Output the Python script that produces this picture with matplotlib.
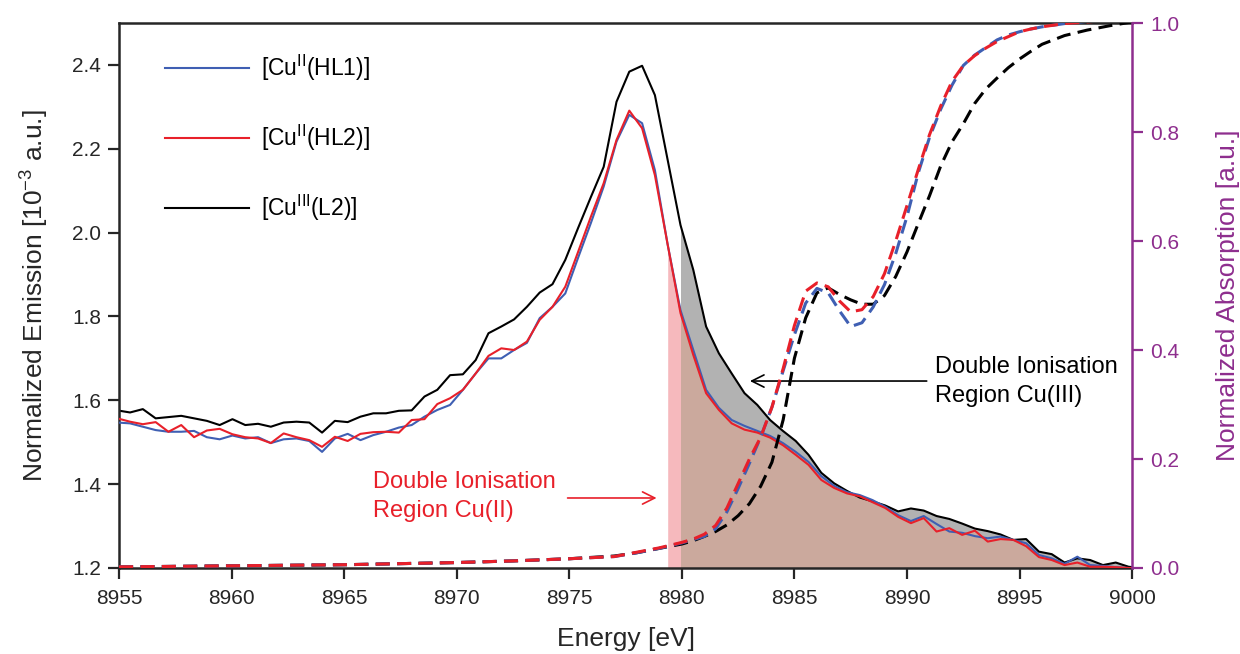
import numpy as np
import matplotlib.pyplot as plt

plt.rcParams['font.family'] = ['Liberation Sans', 'DejaVu Sans']
plt.rcParams['mathtext.fontset'] = 'custom'
plt.rcParams['mathtext.rm'] = 'Liberation Sans'
plt.rcParams['mathtext.it'] = 'Liberation Sans:italic'
plt.rcParams['mathtext.bf'] = 'Liberation Sans:bold'

# emission (XES) data, left axis
emission_energy = np.linspace(8954.92, 9000.41, 81)
hl1_emission = [1.547, 1.545, 1.537, 1.529, 1.525, 1.525, 1.527, 1.512, 1.507, 1.516,
                1.509, 1.512, 1.498, 1.507, 1.509, 1.503, 1.477, 1.509, 1.520, 1.505,
                1.517, 1.525, 1.535, 1.541, 1.561, 1.577, 1.589, 1.625, 1.664, 1.700,
                1.700, 1.720, 1.737, 1.796, 1.823, 1.855, 1.940, 2.023, 2.110, 2.217,
                2.281, 2.261, 2.149, 1.971, 1.815, 1.720, 1.625, 1.582, 1.553, 1.539,
                1.527, 1.515, 1.498, 1.477, 1.453, 1.419, 1.396, 1.381, 1.374, 1.362,
                1.346, 1.326, 1.312, 1.324, 1.305, 1.287, 1.284, 1.276, 1.271, 1.275,
                1.267, 1.259, 1.231, 1.223, 1.210, 1.227, 1.207, 1.205, 1.202, 1.200,
                1.200]
hl2_emission = [1.557, 1.549, 1.543, 1.548, 1.525, 1.541, 1.512, 1.528, 1.532, 1.519,
                1.512, 1.509, 1.498, 1.521, 1.512, 1.505, 1.489, 1.513, 1.503, 1.520,
                1.524, 1.525, 1.523, 1.553, 1.555, 1.591, 1.605, 1.625, 1.664, 1.706,
                1.724, 1.720, 1.740, 1.792, 1.823, 1.871, 1.954, 2.038, 2.118, 2.221,
                2.291, 2.249, 2.137, 1.971, 1.808, 1.708, 1.617, 1.577, 1.545, 1.530,
                1.523, 1.511, 1.493, 1.470, 1.446, 1.410, 1.391, 1.378, 1.371, 1.357,
                1.343, 1.322, 1.307, 1.319, 1.287, 1.295, 1.279, 1.289, 1.263, 1.269,
                1.267, 1.252, 1.226, 1.219, 1.207, 1.213, 1.203, 1.203, 1.202, 1.200,
                1.200]
l2_emission = [1.576, 1.571, 1.579, 1.557, 1.560, 1.563, 1.557, 1.551, 1.541, 1.555,
               1.541, 1.544, 1.537, 1.547, 1.549, 1.547, 1.523, 1.551, 1.548, 1.561,
               1.569, 1.569, 1.575, 1.576, 1.609, 1.625, 1.660, 1.662, 1.696, 1.760,
               1.776, 1.793, 1.823, 1.857, 1.877, 1.935, 2.011, 2.085, 2.157, 2.312,
               2.384, 2.398, 2.328, 2.173, 2.018, 1.911, 1.776, 1.712, 1.664, 1.617,
               1.589, 1.553, 1.527, 1.503, 1.470, 1.427, 1.402, 1.384, 1.368, 1.359,
               1.349, 1.335, 1.342, 1.337, 1.324, 1.317, 1.306, 1.294, 1.288, 1.280,
               1.267, 1.269, 1.239, 1.233, 1.213, 1.223, 1.219, 1.207, 1.213, 1.203,
               1.200]

# absorption (XANES) data, right axis
absorption_energy = [8955, 8957.5, 8960, 8962.5, 8965, 8967.5, 8970, 8972.5, 8975, 8977,
                     8978, 8979, 8980, 8980.5, 8981, 8981.5, 8982, 8982.5, 8983, 8983.5,
                     8984, 8984.5, 8985, 8985.5, 8986, 8986.5, 8987, 8987.5, 8988, 8988.5,
                     8989, 8989.5, 8990, 8990.5, 8991, 8991.5, 8992, 8992.5, 8993, 8993.5,
                     8994, 8994.5, 8995, 8995.5, 8996, 8997, 8998, 8999, 9000]
hl1_absorption = [0.002, 0.003, 0.004, 0.005, 0.006, 0.008, 0.010, 0.013, 0.017, 0.021,
                  0.028, 0.036, 0.046, 0.052, 0.058, 0.072, 0.103, 0.146, 0.192, 0.240,
                  0.295, 0.362, 0.428, 0.486, 0.513, 0.505, 0.472, 0.443, 0.450, 0.479,
                  0.520, 0.577, 0.645, 0.725, 0.790, 0.842, 0.886, 0.922, 0.941, 0.955,
                  0.969, 0.978, 0.984, 0.989, 0.993, 0.999, 1.003, 1.006, 1.008]
hl2_absorption = [0.002, 0.003, 0.004, 0.005, 0.006, 0.008, 0.010, 0.013, 0.017, 0.021,
                  0.029, 0.037, 0.047, 0.053, 0.062, 0.078, 0.110, 0.155, 0.200, 0.240,
                  0.295, 0.366, 0.445, 0.508, 0.523, 0.516, 0.490, 0.470, 0.474, 0.498,
                  0.540, 0.600, 0.665, 0.731, 0.795, 0.848, 0.893, 0.922, 0.940, 0.954,
                  0.966, 0.975, 0.984, 0.989, 0.993, 0.999, 1.002, 1.005, 1.008]
l2_absorption = [0.002, 0.003, 0.004, 0.005, 0.006, 0.008, 0.010, 0.013, 0.017, 0.022,
                 0.028, 0.036, 0.044, 0.050, 0.058, 0.067, 0.079, 0.096, 0.118, 0.150,
                 0.194, 0.272, 0.385, 0.459, 0.505, 0.514, 0.502, 0.492, 0.484, 0.484,
                 0.500, 0.535, 0.580, 0.632, 0.683, 0.738, 0.782, 0.815, 0.852, 0.879,
                 0.899, 0.918, 0.934, 0.948, 0.961, 0.977, 0.987, 0.995, 1.002]

labels = ['[Cu$^{\\rm II}$(HL1)]', '[Cu$^{\\rm II}$(HL2)]', '[Cu$^{\\rm III}$(L2)]']
cu2_start = 8979.3   # start of the Cu(II) double ionisation region
cu3_start = 8979.9   # start of the Cu(III) double ionisation region

blue = '#3f5fb3'
red = '#e8202a'
purple = '#8e2e8e'
dark = '#262626'

fig = plt.figure(figsize=(12.4, 6.54), dpi=100)
ax = fig.add_axes([0.096, 0.1315, 0.817, 0.8333])

e = np.asarray(emission_energy)
red_arr = np.asarray(hl2_emission)
black_arr = np.asarray(l2_emission)

# shaded double ionisation regions
ax.fill_between(e, 1.2, black_arr, where=e >= cu3_start, color='#b2b2b2', lw=0, zorder=1)
ax.fill_between(e, 1.2, red_arr, where=e >= cu3_start, color='#cba99d', lw=0, zorder=1.1)
ax.fill_between(e, 1.2, red_arr, where=(e >= cu2_start) & (e <= cu3_start + 0.1),
                color='#f6b9bd', lw=0, zorder=1.05)

l1, = ax.plot(e, hl1_emission, color=blue, lw=1.5, zorder=3)
l2, = ax.plot(e, hl2_emission, color=red, lw=1.5, zorder=4)
l3, = ax.plot(e, l2_emission, color='black', lw=1.5, zorder=2)

ax.set_xlim(8955, 9000)
ax.set_ylim(1.2, 2.5)
ax.set_xticks(np.arange(8955, 9001, 5))
ax.set_yticks([1.2, 1.4, 1.6, 1.8, 2.0, 2.2, 2.4])
ax.set_yticklabels(['%.1f' % v for v in [1.2, 1.4, 1.6, 1.8, 2.0, 2.2, 2.4]])
ax.tick_params(axis='both', direction='out', length=8, width=1.6, colors=dark,
               labelsize=15, pad=5)
ax.tick_params(axis='x', pad=7)
for s in ['left', 'bottom', 'top']:
    ax.spines[s].set_color(dark)
    ax.spines[s].set_linewidth(1.8)
ax.spines['right'].set_visible(False)
ax.set_xlabel('Energy [eV]', fontsize=19, color=dark, labelpad=14)
ax.set_ylabel('Normalized Emission [10$^{-3}$ a.u.]', fontsize=19, color=dark, labelpad=15)

ax2 = ax.twinx()
ax2.plot(absorption_energy, l2_absorption, color='black', lw=2.2, dashes=(4.6, 2.4), zorder=2)
ax2.plot(absorption_energy, hl1_absorption, color=blue, lw=2.2, dashes=(4.6, 2.4), zorder=3)
ax2.plot(absorption_energy, hl2_absorption, color=red, lw=2.2, dashes=(4.6, 2.4), zorder=4)
ax2.set_ylim(0, 1)
ax2.set_xlim(8955, 9000)
ax2.set_yticks([0.0, 0.2, 0.4, 0.6, 0.8, 1.0])
ax2.set_yticklabels(['%.1f' % v for v in [0.0, 0.2, 0.4, 0.6, 0.8, 1.0]])
ax2.tick_params(axis='y', direction='out', length=8, width=1.6, colors=purple,
                labelsize=15, pad=5)
for s in ['left', 'bottom', 'top']:
    ax2.spines[s].set_visible(False)
ax2.spines['right'].set_color(purple)
ax2.spines['right'].set_linewidth(1.8)
ax2.set_ylabel('Normalized Absorption [a.u.]', fontsize=19, color=purple, labelpad=26)

# annotations
ax.annotate('', xy=(8982.9, 1.646), xytext=(8991.0, 1.646),
            arrowprops=dict(arrowstyle='->', color='black', lw=1.2, mutation_scale=22))
ax.text(8991.25, 1.644, 'Double Ionisation\nRegion Cu(III)', ha='left', va='center',
        fontsize=17, linespacing=1.42, color='black', zorder=6)
ax.annotate('', xy=(8979.0, 1.367), xytext=(8974.8, 1.367),
            arrowprops=dict(arrowstyle='->', color=red, lw=1.2, mutation_scale=22))
ax.text(8966.3, 1.370, 'Double Ionisation\nRegion Cu(II)', ha='left', va='center',
        fontsize=17, linespacing=1.42, color=red, zorder=6)

leg = ax.legend([l1, l2, l3], labels, loc='upper left', bbox_to_anchor=(0.045, 0.945),
                frameon=False, fontsize=16.5, handlelength=3.7, handletextpad=0.5,
                labelspacing=1.74, borderaxespad=0, borderpad=0)

fig.savefig('out.png', dpi=100)
